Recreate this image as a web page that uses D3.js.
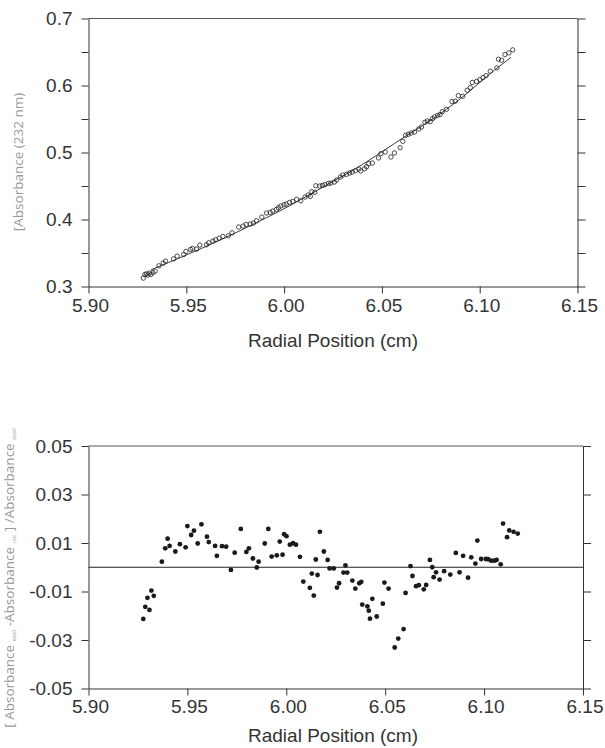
<!DOCTYPE html>
<html>
<head>
<meta charset="utf-8">
<script src="https://cdn.jsdelivr.net/npm/d3@7"></script>
<style>
  body { margin: 0; background: #fff; }
  svg { display: block; }
  .tick text { font-family: "Liberation Sans", Arial, sans-serif; font-size: 19px; fill: #333; }
  .domain, .tick line { stroke: #333; stroke-width: 1; }
  .xlab { font-family: "Liberation Sans", Arial, sans-serif; font-size: 19px; fill: #333; }
  .ylab { font-family: "Open Sans", sans-serif; font-size: 13.5px; fill: #999; }
</style>
</head>
<body>
<script>
// top panel: measured absorbance
var radialTop = [5.9280,5.9288,5.9296,5.9303,5.9311,5.9319,5.9329,5.9341,5.9360,5.9382,5.9394,5.9435,5.9453,5.9487,5.9498,5.9522,5.9532,5.9553,5.9569,5.9603,5.9615,5.9636,5.9650,5.9668,5.9687,5.9715,5.9734,5.9768,5.9790,5.9806,5.9827,5.9843,5.9859,5.9886,5.9910,5.9929,5.9942,5.9961,5.9971,5.9983,5.9999,6.0011,6.0028,6.0044,6.0064,6.0085,6.0107,6.0123,6.0134,6.0142,6.0157,6.0162,6.0182,6.0196,6.0209,6.0227,6.0239,6.0257,6.0269,6.0288,6.0300,6.0319,6.0335,6.0349,6.0365,6.0382,6.0392,6.0412,6.0422,6.0432,6.0451,6.0483,6.0495,6.0517,6.0546,6.0564,6.0593,6.0607,6.0621,6.0635,6.0650,6.0667,6.0688,6.0702,6.0720,6.0732,6.0747,6.0759,6.0769,6.0785,6.0797,6.0809,6.0830,6.0858,6.0875,6.0891,6.0913,6.0936,6.0952,6.0962,6.0984,6.1001,6.1017,6.1033,6.1054,6.1088,6.1096,6.1112,6.1129,6.1149,6.1169];
var absorbance = [0.3125,0.3179,0.3189,0.3169,0.3199,0.3179,0.3209,0.3229,0.3309,0.3349,0.3379,0.3413,0.3453,0.3478,0.3523,0.3553,0.3568,0.3558,0.3618,0.3623,0.3653,0.3677,0.3697,0.3722,0.3747,0.3757,0.3802,0.3887,0.3902,0.3927,0.3932,0.3946,0.3981,0.4036,0.4096,0.4106,0.4126,0.4151,0.4176,0.4201,0.4220,0.4230,0.4255,0.4270,0.4300,0.4280,0.4335,0.4365,0.4345,0.4415,0.4405,0.4504,0.4499,0.4509,0.4519,0.4539,0.4544,0.4559,0.4589,0.4634,0.4664,0.4674,0.4694,0.4709,0.4729,0.4753,0.4724,0.4758,0.4788,0.4833,0.4843,0.4918,0.4983,0.5007,0.4933,0.4993,0.5072,0.5167,0.5257,0.5272,0.5291,0.5306,0.5351,0.5381,0.5451,0.5471,0.5461,0.5506,0.5531,0.5555,0.5565,0.5610,0.5645,0.5760,0.5765,0.5849,0.5839,0.5929,0.5969,0.6046,0.6061,0.6088,0.6118,0.6148,0.6213,0.6263,0.6392,0.6377,0.6462,0.6487,0.6532];

var fitX = [5.932,5.950,5.970,5.985,6.000,6.022,6.040,6.050,6.063,6.075,6.090,6.108,6.116];
var fitY = [0.325,0.347,0.373,0.394,0.416,0.452,0.482,0.501,0.526,0.548,0.580,0.624,0.642];

// bottom panel: relative residuals
var radialRes = [5.9277,5.9287,5.9298,5.9308,5.9318,5.9330,5.9371,5.9388,5.9400,5.9410,5.9439,5.9462,5.9491,5.9500,5.9519,5.9533,5.9552,5.9571,5.9599,5.9608,5.9640,5.9649,5.9675,5.9696,5.9720,5.9739,5.9770,5.9798,5.9811,5.9831,5.9851,5.9860,5.9891,5.9909,5.9926,5.9952,5.9967,5.9981,5.9989,6.0001,6.0018,6.0034,6.0049,6.0069,6.0086,6.0119,6.0129,6.0139,6.0149,6.0158,6.0170,6.0190,6.0209,6.0219,6.0240,6.0256,6.0267,6.0289,6.0299,6.0308,6.0334,6.0349,6.0369,6.0379,6.0384,6.0410,6.0417,6.0423,6.0435,6.0457,6.0488,6.0496,6.0517,6.0548,6.0566,6.0593,6.0603,6.0628,6.0638,6.0656,6.0670,6.0695,6.0707,6.0726,6.0738,6.0745,6.0757,6.0775,6.0798,6.0829,6.0857,6.0876,6.0894,6.0919,6.0935,6.0956,6.0966,6.0985,6.1009,6.1020,6.1036,6.1052,6.1063,6.1084,6.1096,6.1116,6.1127,6.1149,6.1170];
var residual = [-0.0213,-0.0163,-0.0126,-0.0176,-0.0096,-0.0118,0.0023,0.0078,0.0118,0.0088,0.0065,0.0095,0.0082,0.0170,0.0133,0.0151,0.0098,0.0177,0.0126,0.0104,0.0088,0.0047,0.0087,0.0085,-0.0011,0.0060,0.0158,0.0063,0.0078,0.0036,-0.0001,0.0023,0.0098,0.0158,0.0044,0.0049,0.0106,0.0052,0.0136,0.0128,0.0093,0.0099,0.0093,0.0043,-0.0059,-0.0085,-0.0026,-0.0117,0.0032,-0.0032,0.0146,0.0065,0.0030,-0.0005,-0.0005,-0.0084,-0.0066,-0.0022,0.0008,-0.0022,-0.0055,-0.0088,-0.0066,-0.0060,-0.0154,-0.0161,-0.0179,-0.0212,-0.0130,-0.0203,-0.0150,-0.0063,-0.0088,-0.0331,-0.0294,-0.0255,-0.0106,0.0005,-0.0036,-0.0078,-0.0074,-0.0091,-0.0073,0.0030,0.0000,-0.0041,-0.0021,-0.0051,-0.0016,-0.0030,0.0059,-0.0021,0.0047,-0.0043,0.0041,0.0015,0.0110,0.0034,0.0034,0.0033,0.0027,0.0027,0.0030,0.0012,0.0180,0.0124,0.0152,0.0146,0.0139];

var xTicks = [5.90,5.95,6.00,6.05,6.10,6.15];
var yTopTicks = [0.30,0.35,0.40,0.45,0.50,0.55,0.60,0.65,0.70];
var yResTicks = [-0.05,-0.03,-0.01,0.01,0.03,0.05];

var svg = d3.select("body").append("svg")
    .attr("width", 605).attr("height", 748);

// ---------- top panel ----------
var x1 = d3.scaleLinear().domain([5.90, 6.15]).range([88.5, 577.5]);
var y1 = d3.scaleLinear().domain([0.3, 0.7]).range([286.5, 18.5]);

svg.append("g").attr("transform", "translate(0,286.5)")
    .call(d3.axisBottom(x1).tickValues(xTicks).tickSize(7).tickSizeOuter(0)
        .tickFormat(function(d){ return d.toFixed(2); }))
    .selectAll("text").attr("y", 12).attr("dx", 1.5);

svg.append("g").attr("transform", "translate(88.5,0)")
    .call(d3.axisLeft(y1).tickValues(yTopTicks).tickSize(7).tickSizeOuter(0)
        .tickFormat(function(d, i){ return i % 2 ? "" : d.toFixed(1); }))
    .selectAll("text").attr("x", -16);

svg.append("g").attr("transform", "translate(577.5,0)")
    .call(d3.axisRight(y1).tickValues(yTopTicks).tickSize(8).tickSizeOuter(0).tickFormat(""));

svg.append("line")
    .attr("x1", x1(5.90)).attr("x2", x1(6.15))
    .attr("y1", y1(0.7)).attr("y2", y1(0.7))
    .attr("stroke", "#555");

var fitLine = d3.line()
    .x(function(d, i){ return x1(fitX[i]); })
    .y(function(d){ return y1(d); })
    .curve(d3.curveMonotoneX);

svg.append("path").datum(fitY)
    .attr("d", fitLine)
    .attr("fill", "none").attr("stroke", "#222").attr("stroke-width", 0.9);

svg.append("g").selectAll("circle")
    .data(absorbance)
    .enter().append("circle")
        .attr("cx", function(d, i){ return x1(radialTop[i]); })
        .attr("cy", function(d){ return y1(d); })
        .attr("r", 2.2)
        .attr("fill", "none").attr("stroke", "#222").attr("stroke-width", 0.8);

svg.append("text").attr("class", "xlab")
    .attr("x", 333).attr("y", 347).attr("text-anchor", "middle")
    .text("Radial Position (cm)");

svg.append("text").attr("class", "ylab")
    .attr("transform", "translate(23,162) rotate(-90)")
    .attr("text-anchor", "middle")
    .text("[Absorbance (232 nm)");

// ---------- bottom panel ----------
var x2 = d3.scaleLinear().domain([5.90, 6.15]).range([88.5, 583]);
var y2 = d3.scaleLinear().domain([-0.05, 0.05]).range([688.5, 446]);

svg.append("g").attr("transform", "translate(0,688.5)")
    .call(d3.axisBottom(x2).tickValues(xTicks).tickSize(7).tickSizeOuter(0)
        .tickFormat(function(d){ return d.toFixed(2); }))
    .selectAll("text").attr("y", 11).attr("dx", 1.5);

svg.append("g").attr("transform", "translate(88.5,0)")
    .call(d3.axisLeft(y2).tickValues(yResTicks).tickSize(7).tickSizeOuter(0)
        .tickFormat(function(d){ return d.toFixed(2).replace("\u2212", "-"); }))
    .selectAll("text").attr("x", -16);

svg.append("g").attr("transform", "translate(583,0)")
    .call(d3.axisRight(y2).tickValues(yResTicks).tickSize(8).tickSizeOuter(0).tickFormat(""));

svg.append("line")
    .attr("x1", x2(5.90)).attr("x2", x2(6.15))
    .attr("y1", y2(0.05)).attr("y2", y2(0.05))
    .attr("stroke", "#555");

svg.append("line")
    .attr("x1", x2(5.90)).attr("x2", x2(6.15))
    .attr("y1", y2(0)).attr("y2", y2(0))
    .attr("stroke", "#222");

svg.append("g").selectAll("circle")
    .data(residual)
    .enter().append("circle")
        .attr("cx", function(d, i){ return x2(radialRes[i]); })
        .attr("cy", function(d){ return y2(d); })
        .attr("r", 2.4)
        .attr("fill", "#1a1a1a");

svg.append("text").attr("class", "xlab")
    .attr("x", 333).attr("y", 742).attr("text-anchor", "middle")
    .text("Radial Position (cm)");

var rl = svg.append("text").attr("class", "ylab")
    .attr("font-size", "13px")
    .attr("transform", "translate(14,578) rotate(-90)")
    .attr("text-anchor", "middle");
rl.append("tspan").text("[ Absorbance ");
rl.append("tspan").attr("font-size", "5px").attr("dy", 2).text("exptl");
rl.append("tspan").attr("dy", -2).text(" -Absorbance ");
rl.append("tspan").attr("font-size", "5px").attr("dy", 2).text("calc");
rl.append("tspan").attr("dy", -2).text(" ] /Absorbance ");
rl.append("tspan").attr("font-size", "5px").attr("dy", 2).text("exptl");
</script>
</body>
</html>
